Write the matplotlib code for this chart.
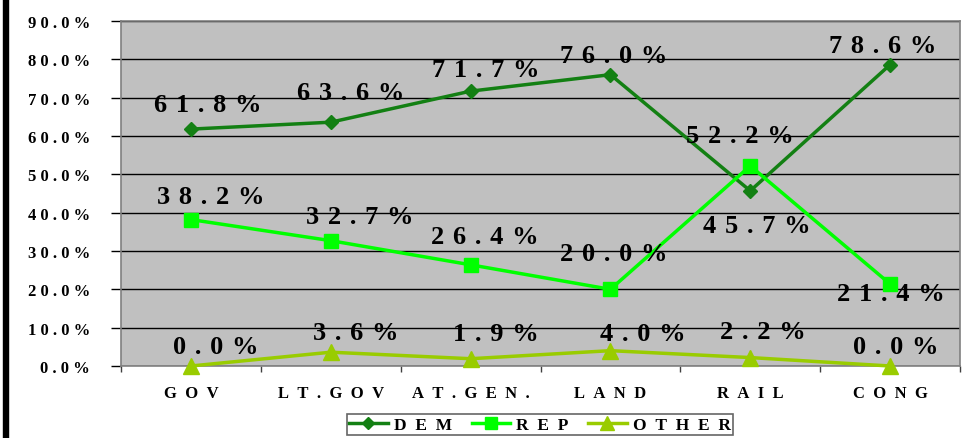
import matplotlib
matplotlib.use("Agg")
import matplotlib.pyplot as plt
from matplotlib.patches import Rectangle
from matplotlib.ticker import FixedLocator

categories = ["GOV", "LT.GOV", "AT.GEN.", "LAND", "RAIL", "CONG"]
dem = [61.8, 63.6, 71.7, 76.0, 45.7, 78.6]
rep = [38.2, 32.7, 26.4, 20.0, 52.2, 21.4]
other = [0.0, 3.6, 1.9, 4.0, 2.2, 0.0]
yticks = [0, 10, 20, 30, 40, 50, 60, 70, 80, 90]

def spaced(s, sep=" "):
    return sep.join(s)

W, H = 972, 439
fig = plt.figure(figsize=(W / 100, H / 100), dpi=100)
fig.patches.append(Rectangle((3 / W, 0), 5 / W, 1, transform=fig.transFigure,
                             color="black", zorder=0))
ax = fig.add_axes([121 / W, 1 - 367 / H, (960 - 121) / W, (367 - 22) / H])
ax.set_facecolor("#C0C0C0")
for s in ax.spines.values():
    s.set_color("#808080")
    s.set_linewidth(1.2)

x = list(range(len(categories)))
ax.set_xlim(-0.5, len(categories) - 0.5)
ax.set_ylim(0, 90)

fam = ["Liberation Serif", "DejaVu Serif"]
ax.set_yticks(yticks)
ax.set_yticklabels([spaced(f"{v:.1f}%") for v in yticks], family=fam,
                   fontweight="bold", fontsize=12)
ax.tick_params(axis="y", length=7.2, width=1, pad=15, color="black")
ax.yaxis.grid(True, color="black", linewidth=1)
ax.set_axisbelow(True)

ax.set_xticks(x)
ax.set_xticklabels([spaced(c, "\u2002") for c in categories], family=fam,
                   fontweight="bold", fontsize=12)
ax.tick_params(axis="x", length=0, pad=14)
ax.xaxis.set_minor_locator(FixedLocator([i - 0.5 for i in range(len(categories) + 1)]))
ax.tick_params(axis="x", which="minor", length=4, width=1, color="#404040")

c_dem, c_rep, c_oth = "#138013", "#00FF00", "#99CC00"
ax.plot(x, dem, color=c_dem, lw=2.5, marker="D", ms=7, label=spaced("DEM", "\u2002"), clip_on=False, zorder=3)
ax.plot(x, rep, color=c_rep, lw=2.5, marker="s", ms=10, label=spaced("REP", "\u2002"), clip_on=False, zorder=3)
ax.plot(x, other, color=c_oth, lw=2.5, marker="^", ms=11, label=spaced("OTHER", "\u2002"), clip_on=False, zorder=3)

dem_off = [(17, 25), (20, 30), (15, 22), (3, 19), (7, -35), (-7, 19)]
rep_off = [(20, 23), (29, 24), (14, 28), (3, 36), (-10, 30), (1, -10)]
oth_off = [(25, 20), (25, 20), (25, 25), (32, 17), (13, 26), (6, 20)]
for series, offs in ((dem, dem_off), (rep, rep_off), (other, oth_off)):
    for xi, v, (dx, dy) in zip(x, series, offs):
        ax.annotate(spaced(f"{v:.1f}%", "\u2004"), (xi, v), xytext=(dx * 0.72, dy * 0.72),
                    textcoords="offset points", ha="center", va="center",
                    family=fam, fontweight="bold", fontsize=19, zorder=5)

leg = fig.legend(loc="upper center", bbox_to_anchor=(540 / W, 1 - 415 / H), ncol=3,
                 prop={"family": fam, "weight": "bold", "size": 12.5},
                 frameon=True, fancybox=False, edgecolor="#404040",
                 handlelength=2.2, columnspacing=1.15, handletextpad=0.35,
                 borderpad=0.15, borderaxespad=0, markerscale=0.9)
leg.get_frame().set_linewidth(1.2)

fig.savefig("out.png", dpi=100)
